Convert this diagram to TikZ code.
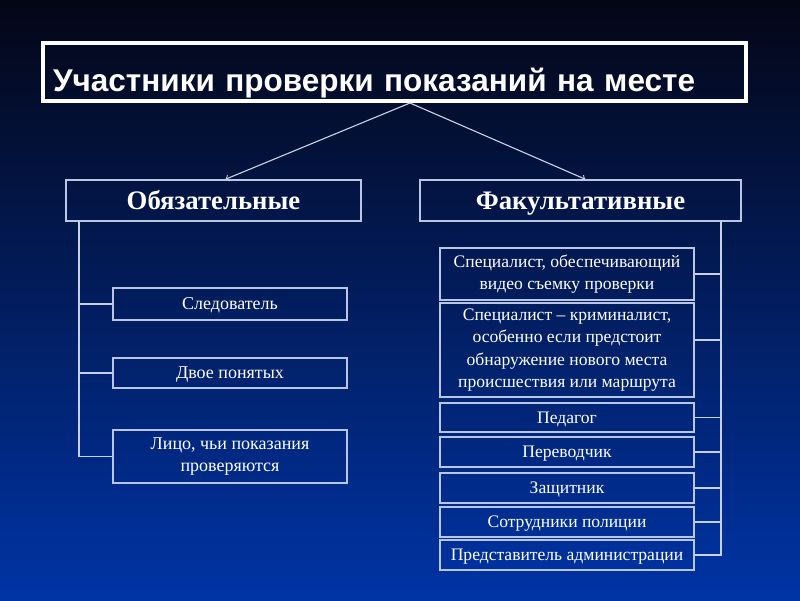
\documentclass[tikz,border=0pt]{standalone}
\usepackage{fontspec}
\setmainfont{Liberation Serif}
\newfontfamily\headsans{Liberation Sans}
\definecolor{bgtop}{RGB}{4,6,22}
\definecolor{bgmid}{RGB}{8,32,112}
\definecolor{bgbot}{RGB}{0,52,165}
\definecolor{frame}{RGB}{185,198,228}
\definecolor{wire}{RGB}{200,208,228}
\begin{document}
\begin{tikzpicture}[x=0.025cm,y=-0.025cm,
    every node/.style={text=white, align=center, inner sep=0pt},
    plate/.style={draw=frame, line width=1.1pt, minimum height=#1*0.025cm},
    plate/.default=30,
    oneline/.style={text height=10pt, text depth=1.8pt},
    lbox/.style={plate=#1, minimum width=234*0.025cm, font=\fontsize{12.8}{16}\selectfont},
    rbox/.style={plate=#1, minimum width=254*0.025cm, font=\fontsize{12.5}{16}\selectfont},
    head/.style={plate=41, font=\fontsize{19}{22}\selectfont\bfseries, text height=14pt, text depth=1.4pt},
    wire/.style={draw=wire, line width=0.8pt}]
                \shade [top color=bgtop, middle color=bgmid, bottom color=bgbot] (0,0) rectangle (800,600);
                \useasboundingbox (0,0) rectangle (800,600);
                % title
                \node [draw=white, line width=2.2pt, minimum width=703*0.025cm, minimum height=1.45cm,
                       text width=683*0.025cm, align=left, text height=0.95cm, text depth=0cm,
                       font=\headsans\fontsize{22.4}{26}\selectfont\bfseries] (title) at (394.5,72)
                       {Участники проверки показаний на месте};
                % headers
                \node [head, minimum width=295*0.025cm] (oblig) at (213.5,200.5) {Обязательные};
                \node [head, minimum width=321*0.025cm] (facult) at (580.5,200.5) {Факультативные};
                % left column
                \node [lbox=32, oneline] (sled) at (230,304) {Следователь};
                \node [lbox=30, oneline] (dvoe) at (230,373) {Двое понятых};
                \node [lbox=53] (lico) at (230,456.5) {Лицо, чьи показания\\проверяются};
                % right column
                \node [rbox=52] (video) at (567,274) {Специалист, обеспечивающий\\видео съемку проверки};
                \node [rbox=94] (krim) at (567,350) {Специалист -- криминалист,\\особенно если предстоит\\обнаружение нового места\\происшествия или маршрута};
                \node [rbox=29, oneline] (ped) at (567,417.5) {Педагог};
                \node [rbox, oneline] (perev) at (567,452) {Переводчик};
                \node [rbox, oneline] (zasch) at (567,488) {Защитник};
                \node [rbox, oneline] (sotr) at (567,522) {Сотрудники полиции};
                \node [rbox, oneline] (pred) at (567,555) {Представитель администрации};
                % arrows from the title
                \coordinate (split) at (410,103);
                \draw [wire, ->] (split) to ([xshift=0.3cm]oblig.north);
                \draw [wire, ->] (split) to ([xshift=0.12cm]facult.north);
                % left spine
                \coordinate (lspine) at (79,221);
                \draw [wire] (lspine) |- (lico.west);
                \draw [wire] (sled.west) -- (sled.west -| lspine);
                \draw [wire] (dvoe.west) -- (dvoe.west -| lspine);
                % right spine
                \coordinate (rspine) at (721,221);
                \draw [wire] (rspine) |- (pred.east);
                \draw [wire] (video.east) -- (video.east -| rspine);
                \draw [wire] ([yshift=0.25cm]krim.east) -- ([yshift=0.25cm]krim.east -| rspine);
                \draw [wire] (ped.east) -- (ped.east -| rspine);
                \draw [wire] (perev.east) -- (perev.east -| rspine);
                \draw [wire] (zasch.east) -- (zasch.east -| rspine);
                \draw [wire] (sotr.east) -- (sotr.east -| rspine);
            \end{tikzpicture}
\end{document}
